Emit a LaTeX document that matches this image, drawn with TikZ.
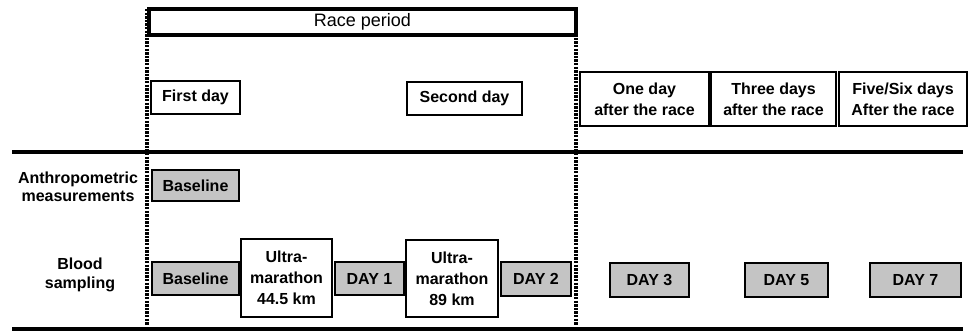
\documentclass[tikz,border=0pt]{standalone}
\usepackage{fontspec}
\setmainfont{Liberation Sans}
\usepackage{xcolor}
\definecolor{stipple-grey}{HTML}{C4C4C4}

\begin{document}
\begin{tikzpicture}[x=1pt, y=-1pt,
          every node/.style={font=\bfseries\fontsize{16}{21}\selectfont,
                             inner sep=0pt, align=center},
          plainbox/.style={draw, line width=1.6pt, fill=white},
          samplebox/.style={draw, line width=2pt, fill=stipple-grey},
          rowlabel/.style={font=\bfseries\fontsize{16}{18.5}\selectfont},
          dotrule/.style={line width=3.2pt, dash pattern=on 2.4pt off 1.2pt},
          rule/.style={line width=3.2pt}]
        % Timeline: race period box on top, day headers, then two rows
        % (anthropometry, blood sampling) between thick rules.
        % Coordinates: (x,y) in pixels, y downwards
        \useasboundingbox (0,0) rectangle (971,333);
        % rules and race period limits
        \coordinate (RuleL) at (12,152);
        \coordinate (RuleR) at (963,152);
        \coordinate (BaseL) at (12,329);
        \coordinate (BaseR) at (963,329);
        \coordinate (LimAtop) at (147,9);
        \coordinate (LimAbot) at (147,325);
        \coordinate (LimBtop) at (576,9);
        \coordinate (LimBbot) at (576,325);
        \draw[rule] (RuleL) -- (RuleR);
        \draw[rule] (BaseL) -- (BaseR);
        \node[draw, line width=3.2pt, minimum width=427pt,
              minimum height=26pt, font=\fontsize{18}{21}\selectfont]
              (RACE) at (362.5,22) {Race period};
        \draw[dotrule] (LimAtop) -- (LimAbot);
        \draw[dotrule] (LimBtop) -- (LimBbot);
        % day headers
        \node[plainbox, minimum width=89pt, minimum height=33pt]
              (D1) at (195.5,97.5) {First day};
        \node[plainbox, minimum width=115pt, minimum height=33pt]
              (D2) at (464.5,98.5) {Second day};
        \node[plainbox, minimum width=129pt, minimum height=54pt]
              (A1) at (644.5,99) {One day\\after the race};
        \node[plainbox, minimum width=125pt, minimum height=54pt]
              (A3) at (773.5,99) {Three days\\after the race};
        \node[plainbox, minimum width=128pt, minimum height=54pt]
              (A5) at (903,99) {Five/Six days\\After the race};
        % row labels
        \node[rowlabel] (ANTH) at (78,187) {Anthropometric\\measurements};
        \node[rowlabel] (BLOOD) at (80,275) {Blood\\sampling};
        % anthropometry row
        \node[samplebox, minimum width=87pt, minimum height=31pt]
              (ABASE) at (195.5,185.5) {Baseline};
        % blood sampling row
        \node[samplebox, minimum width=87pt, minimum height=33pt]
              (BBASE) at (195.5,278.5) {Baseline};
        \node[plainbox, minimum width=91pt, minimum height=78pt]
              (U1) at (286.5,278) {Ultra-\\marathon\\44.5 km};
        \node[samplebox, minimum width=69pt, minimum height=33pt]
              (S1) at (369.5,278.5) {DAY 1};
        \node[plainbox, minimum width=92pt, minimum height=77pt]
              (U2) at (452,278.5) {Ultra-\\marathon\\89 km};
        \node[samplebox, minimum width=70pt, minimum height=34pt]
              (S2) at (536,279) {DAY 2};
        \node[samplebox, minimum width=79pt, minimum height=34pt]
              (S3) at (649.5,280) {DAY 3};
        \node[samplebox, minimum width=83pt, minimum height=34pt]
              (S5) at (786.5,280) {DAY 5};
        \node[samplebox, minimum width=91pt, minimum height=34pt]
              (S7) at (915.5,280) {DAY 7};
      \end{tikzpicture}
\end{document}
